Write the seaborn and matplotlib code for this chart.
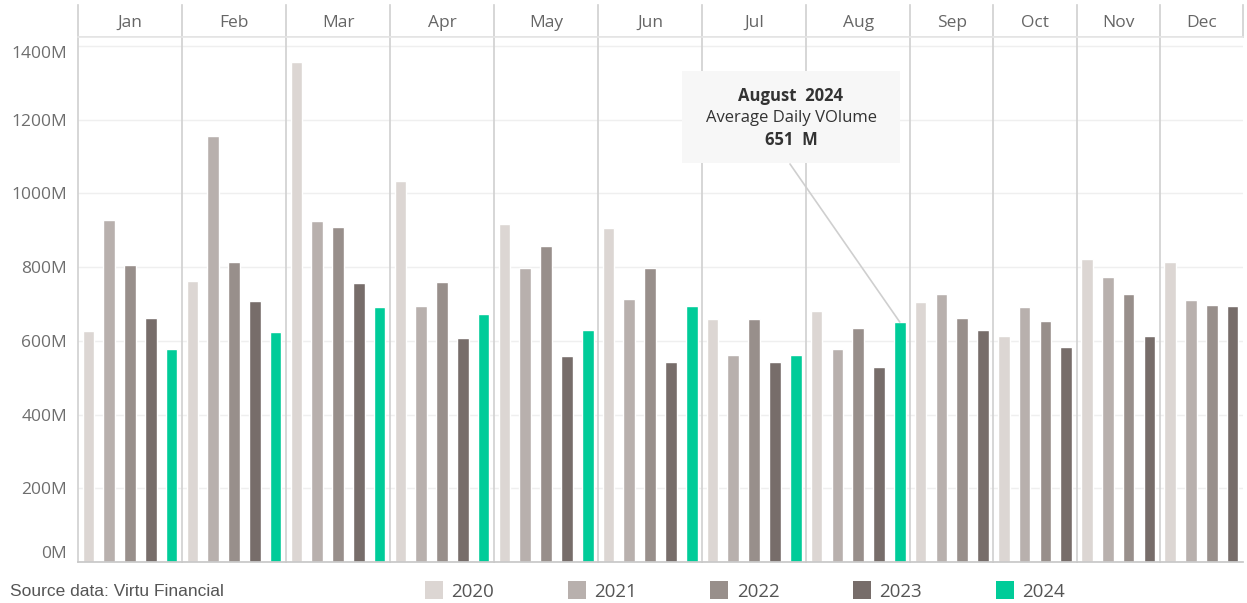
import numpy as np
import pandas as pd
import seaborn as sns
import matplotlib
matplotlib.use("Agg")
import matplotlib.pyplot as plt
from matplotlib.patches import Patch, Rectangle, ConnectionPatch

# ---------------- data ----------------
months = ["Jan", "Feb", "Mar", "Apr", "May", "Jun", "Jul", "Aug", "Sep", "Oct", "Nov", "Dec"]
years = ["2020", "2021", "2022", "2023", "2024"]
v2020 = [626, 763, 1357, 1033, 916, 907, 659, 682, 704, 613, 822, 813]
v2021 = [927, 1155, 924, 695, 797, 714, 561, 577, 727, 691, 773, 711]
v2022 = [805, 813, 910, 760, 858, 797, 659, 634, 663, 655, 727, 698]
v2023 = [663, 708, 757, 607, 558, 542, 542, 529, 629, 584, 613, 695]
v2024 = [578, 624, 692, 674, 629, 695, 561, 651]
y_ticks = [0, 200, 400, 600, 800, 1000, 1200, 1400]
y_tick_labels = ["0M", "200M", "400M", "600M", "800M", "1000M", "1200M", "1400M"]
colors = ["#DCD6D3", "#B8B0AD", "#988F8B", "#776D6A", "#00CC99"]
source_text = "Source data: Virtu Financial"
tooltip_lines = ["August  2024", "Average Daily VOlume", "651  M"]

series = {"2020": v2020, "2021": v2021, "2022": v2022, "2023": v2023, "2024": v2024}
rows = []
for yr, vals in series.items():
    for m, v in zip(months, vals):
        rows.append({"month": m, "year": yr, "value": v})
df = pd.DataFrame(rows)
palette = dict(zip(years, colors))

# ---------------- style ----------------
sns.set_theme(style="white")
plt.rcParams["font.family"] = ["Open Sans", "DejaVu Sans"]

W, H = 1247, 603
fig = plt.figure(figsize=(W / 100, H / 100), dpi=100)

counts = [df[df.month == m].shape[0] for m in months]
gs = fig.add_gridspec(2, 12, width_ratios=counts, height_ratios=[32, 525],
                      left=78 / W, right=1243 / W, bottom=1 - 562 / H, top=1 - 5 / H,
                      wspace=0, hspace=0)

line_col = "#D2D2D2"
axes = []
ax0 = None
for i, m in enumerate(months):
    # header cell
    hax = fig.add_subplot(gs[0, i])
    hax.set_xticks([]); hax.set_yticks([])
    hax.set_facecolor("none")
    for s in ["top", "right"]:
        hax.spines[s].set_visible(False)
    hax.spines["left"].set_color(line_col)
    hax.spines["bottom"].set_color(line_col)
    if i == len(months) - 1:
        hax.spines["right"].set_visible(True)
        hax.spines["right"].set_color(line_col)
    hax.text(0.5, 0.45, m, ha="center", va="center", fontsize=12.5, color="#666666",
             transform=hax.transAxes)

    # plot cell
    ax = fig.add_subplot(gs[1, i], sharey=ax0)
    if ax0 is None:
        ax0 = ax
    sub = df[df.month == m]
    order = [y for y in years if y in set(sub.year)]
    sns.barplot(data=sub, x="year", y="value", hue="year", order=order, hue_order=order,
                palette=palette, width=0.56, saturation=1, dodge=False, legend=False,
                ax=ax)
    ax.set_xlim(-0.5, len(order) - 0.5)
    ax.set_ylim(0, 1424)
    ax.set_xlabel(""); ax.set_ylabel("")
    ax.set_xticks([])
    ax.set_yticks(y_ticks)
    ax.grid(axis="y", color="#EFEFEF", lw=1)
    ax.set_axisbelow(True)
    ax.spines["right"].set_visible(False)
    ax.spines["left"].set_color(line_col)
    ax.spines["bottom"].set_color("#C8C8C8")
    ax.spines["top"].set_color("#E6E6E6")
    ax.tick_params(axis="both", length=0, labelleft=(i == 0))
    axes.append(ax)

ax0.set_yticks(y_ticks)
ax0.set_yticklabels(y_tick_labels, fontsize=12.5, color="#6E6E6E")
lbls = ax0.get_yticklabels()
lbls[0].set_va("bottom")
lbls[-1].set_va("top")
ax0.tick_params(axis="y", pad=8)

# ---------------- legend ----------------
handles = [Patch(facecolor=c, edgecolor="none", label=y) for y, c in zip(years, colors)]
fig.legend(handles=handles, loc="center left", bbox_to_anchor=(425 / W, 1 - 591 / H),
           ncol=5, frameon=False, fontsize=13.5, handlelength=0.96, handleheight=1.1,
           handletextpad=0.45, columnspacing=3.92, borderpad=0, borderaxespad=0,
           labelcolor="#555555")

fig.text(10 / W, 1 - 592 / H, source_text, ha="left", va="center", fontsize=12.5,
         color="#555555", family=["Liberation Sans", "DejaVu Sans"])

# ---------------- tooltip ----------------
box = Rectangle((682 / W, 1 - 163 / H), 218 / W, 92 / H, transform=fig.transFigure,
                facecolor="#F7F7F7", edgecolor="none", zorder=5)
fig.patches.append(box)
aug_ax = axes[months.index("Aug")]
con = ConnectionPatch(xyA=(790 / W, 1 - 164 / H), coordsA=fig.transFigure,
                      xyB=(years.index("2024"), v2024[months.index("Aug")]),
                      coordsB=aug_ax.transData, color="#CFCFCF", lw=1.2, zorder=4)
fig.add_artist(con)
ycent = [96, 118, 140]
weights = ["bold", "normal", "bold"]
for t, yy, wt in zip(tooltip_lines, ycent, weights):
    fig.text(791 / W, 1 - yy / H, t, ha="center", va="center", fontsize=12,
             fontweight=wt, color="#333333", zorder=6)

fig.savefig("out.png", dpi=100)
